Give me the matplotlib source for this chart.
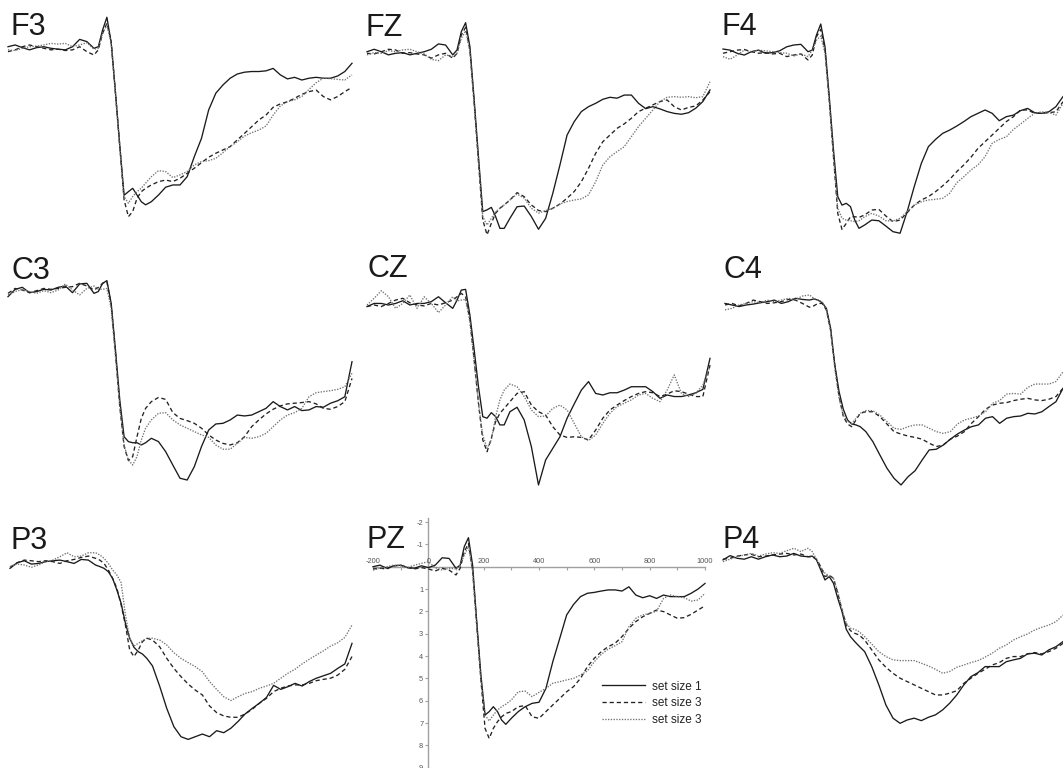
import matplotlib
matplotlib.use("Agg")
import matplotlib.pyplot as plt

# ---------------- data (time in ms, amplitude in microvolts, positive down) ----
T = [-200, -175, -150, -125, -100, -75, -50, -25, 0, 25, 50, 75, 100,
     115, 130, 145, 160, 175, 190, 205, 220, 235, 250, 265, 280,
     300, 325, 350, 375, 400, 425, 450, 475, 500, 525, 550, 575, 600,
     625, 650, 675, 700, 725, 750, 775, 800, 825, 850, 875, 900, 925,
     950, 975, 1000]

LABELS = ["set size 1", "set size 3", "set size 3"]
CHANNELS = ["F3", "FZ", "F4", "C3", "CZ", "C4", "P3", "PZ", "P4"]

F3_1 = [-0.07,-0.15,-0.03,0.07,-0.03,-0.07,0,0.04,0.07,-0.07,-0.4,-0.3,0, -0.07,-0.82,-1.39,-0.25,2.0,4.36,6.58,6.42,6.27,6.57,6.87,7.01, 6.87,6.57,6.22,6.12,6.12,5.75,4.85,4.03,2.76,2.01,1.64,1.34,1.15,1.07,1.04,1.04,1.01,0.9,1.19,1.37,1.3,1.42,1.34,1.3,1.34,1.34,1.24,1.04,0.67]
F3_2 = [0.15,0.07,-0.07,-0.15,-0.07,0,0.07,0.04,0.1,0.07,-0.07,0.15,0.3, 0.07,-0.67,-1.12,-0.3,2.01,4.4,6.79,7.54,7.31,6.72,6.42,6.27, 6.12,5.97,5.9,5.97,5.82,5.6,5.37,5.12,4.88,4.7,4.55,4.4,4.1,3.81,3.51,3.21,2.99,2.64,2.49,2.39,2.24,2.06,1.94,1.87,2.16,2.31,2.16,1.94,1.75]
F3_3 = [0.07,0.1,0,-0.07,-0.1,-0.15,-0.22,-0.19,-0.22,-0.07,-0.15,-0.25,0.04, 0,-0.67,-1.04,-0.22,2.09,4.48,6.64,6.94,6.64,6.42,6.27,6.04, 5.75,5.48,5.52,5.79,5.67,5.52,5.22,5.07,5.03,4.93,4.67,4.4,4.18,3.93,3.78,3.66,3.48,2.99,2.58,2.39,2.31,2.16,1.84,1.54,1.34,1.36,1.39,1.42,1.19]

FZ_1 = [-0.07,-0.18,-0.07,0.07,0,-0.03,0.07,0,-0.07,-0.18,-0.42,-0.37,0.07, -0.15,-0.97,-1.37,-0.3,2.09,4.63,7.09,7.01,6.9,7.31,7.84,7.84, 7.39,6.87,6.84,7.31,7.88,7.39,6.27,5.0,3.66,3.06,2.61,2.39,2.24,2.06,1.97,2.01,1.87,1.87,2.24,2.48,2.39,2.49,2.61,2.69,2.73,2.66,2.46,2.16,1.64]
FZ_2 = [0,0.03,-0.07,-0.18,-0.15,0,-0.03,0.03,0.07,0.22,0.07,0,0.22, 0,-0.82,-1.16,-0.15,2.24,4.85,7.46,8.13,7.61,7.16,6.94,6.79, 6.57,6.24,6.42,6.79,7.04,7.09,6.94,6.75,6.49,6.19,5.75,5.15,4.48,3.96,3.66,3.36,3.16,2.91,2.61,2.46,2.31,2.16,2.09,2.39,2.54,2.42,2.36,2.09,1.72]
FZ_3 = [0.07,-0.03,0,-0.12,-0.07,-0.15,-0.18,-0.07,0.03,0.27,0.33,0.07,0.15, 0,-0.67,-1.01,-0.07,2.31,4.85,7.31,7.69,7.39,7.09,6.94,6.79, 6.57,6.3,6.49,6.94,7.16,7.04,6.94,6.75,6.64,6.57,6.52,6.34,5.75,5.0,4.63,4.4,4.18,3.73,3.28,2.91,2.54,2.16,1.97,1.94,1.97,1.94,1.99,1.94,1.27]

F4_1 = [-0.12,-0.07,0.07,0.15,0,-0.07,0.07,0.04,-0.04,-0.22,-0.3,-0.33,0, -0.07,-0.75,-1.24,-0.22,2.01,4.4,6.49,6.87,6.79,6.94,7.54,7.91, 7.76,7.54,7.57,7.81,8.06,8.13,7.16,6.04,5.0,4.25,3.93,3.66,3.51,3.33,3.13,2.91,2.76,2.61,2.76,3.09,2.91,2.84,2.64,2.54,2.73,2.76,2.69,2.46,2.01]
F4_2 = [0.07,0,-0.07,-0.1,0,0.07,0.04,0.1,0.07,0.22,0.15,0.1,0.37, 0.15,-0.67,-1.0,-0.07,2.16,4.7,7.24,7.96,7.69,7.39,7.39,7.42, 7.31,7.09,7.06,7.36,7.61,7.54,7.21,6.87,6.64,6.49,6.27,6.01,5.72,5.37,5.07,4.73,4.33,4.03,3.73,3.43,3.13,2.91,2.61,2.61,2.76,2.76,2.73,2.69,2.24]
F4_3 = [0.22,0.34,0.15,-0.07,0,-0.07,-0.04,0,0.04,0.07,0.19,0.1,0.22, -0.07,-0.52,-0.7,0.07,2.24,4.7,7.01,7.46,7.54,7.57,7.61,7.57, 7.39,7.24,7.36,7.57,7.58,7.46,7.16,6.87,6.72,6.64,6.61,6.57,6.34,5.87,5.6,5.3,5.07,4.7,4.1,3.93,3.81,3.48,3.24,2.99,2.76,2.69,2.73,2.84,2.31]

C3_1 = [0.3,-0.03,-0.12,0.12,0.07,-0.03,0,-0.12,-0.18,0.12,-0.27,-0.3,0.15, 0.07,-0.3,-0.42,0.6,2.69,4.93,6.57,6.79,6.84,6.84,6.94,6.84, 6.64,6.79,7.24,7.84,8.43,8.51,7.91,7.01,6.27,6.0,5.97,5.82,5.6,5.64,5.6,5.45,5.3,5.0,5.22,5.37,5.22,5.4,5.37,5.22,5.25,5.07,4.96,4.78,3.21]
C3_2 = [0.15,-0.07,0,0.12,0.03,-0.07,-0.03,-0.07,-0.12,-0.15,-0.3,-0.18,0, -0.12,-0.3,-0.37,0.67,2.84,5.22,7.01,7.64,7.46,6.57,5.75,5.3, 5.0,4.81,4.9,5.49,5.75,5.85,5.97,6.19,6.49,6.72,6.87,6.94,6.84,6.57,6.12,5.82,5.55,5.34,5.19,5.1,5.07,5.04,5.0,5.1,5.3,5.34,5.22,5.0,3.96]
C3_3 = [0.22,0.07,-0.03,0.07,0.15,0.03,0.12,0,-0.27,0,0.22,-0.07,-0.18, -0.03,-0.03,-0.07,0.82,2.99,5.22,6.94,7.61,7.84,7.46,6.72,6.19, 5.82,5.52,5.49,5.82,6.04,6.19,6.34,6.49,6.6,6.94,7.13,7.13,6.87,6.6,6.64,6.57,6.42,6.12,5.82,5.6,5.49,5.3,4.78,4.6,4.55,4.51,4.45,4.33,3.73]

CZ_1 = [0.07,-0.07,-0.07,0,-0.07,-0.19,0,-0.07,-0.07,-0.15,-0.37,-0.1,0.15, -0.22,-0.67,-0.7,0.45,2.01,3.66,5.0,5.07,4.82,5.0,5.37,5.37, 4.78,4.58,5.15,6.34,8.06,6.94,6.42,5.9,5.07,4.43,3.81,3.43,3.96,4.03,3.93,3.93,3.81,3.66,3.66,3.66,3.88,4.18,4.03,4.1,4.1,4.03,3.93,3.78,2.39]
CZ_2 = [0.07,0,0.07,-0.07,-0.22,-0.3,-0.1,0,0.04,-0.07,0,-0.1,-0.22, -0.37,-0.52,-0.37,0.67,2.46,4.4,6.04,6.57,5.97,5.22,4.85,4.63, 4.33,3.96,3.88,4.48,4.78,4.93,5.45,5.82,5.93,5.9,5.93,6.04,5.6,5.07,4.7,4.48,4.28,4.1,3.96,3.88,3.93,4.1,3.99,3.84,3.88,3.99,4.1,4.1,2.69]
CZ_3 = [0,-0.3,-0.64,-0.37,0.15,-0.07,-0.45,0.15,-0.37,-0.07,0.34,0,-0.37, -0.19,-0.22,-0.25,0.75,2.54,4.4,5.82,6.42,6.04,5.0,4.25,3.81, 3.54,3.66,4.1,4.7,5.0,4.97,4.63,4.48,4.7,5.3,5.9,6.07,5.82,5.3,4.85,4.55,4.4,4.25,4.03,3.96,4.18,4.33,3.81,3.13,3.96,4.1,3.96,3.58,2.76]

C4_1 = [-0.07,0,0.07,0,-0.04,-0.1,-0.15,-0.22,-0.07,-0.15,-0.3,-0.25,-0.22, -0.27,-0.22,-0.1,0.15,1.04,2.69,3.88,4.67,5.15,5.33,5.37,5.45, 5.67,6.12,6.72,7.31,7.76,8.06,7.69,7.42,6.94,6.49,6.46,6.27,6.01,5.78,5.6,5.45,5.37,5.07,5.0,5.3,5.07,5.0,4.97,4.85,4.88,4.78,4.55,4.33,3.73]
C4_2 = [0,-0.07,0.04,-0.07,-0.22,-0.15,-0.07,-0.1,-0.15,-0.25,-0.22,-0.07,0.1, 0.04,-0.07,-0.07,0.22,1.12,2.76,4.1,4.99,5.33,5.45,5.15,4.85, 4.78,4.78,5.0,5.33,5.67,5.78,5.87,5.93,6.01,6.19,6.34,6.27,6.01,5.87,5.67,5.3,5.0,4.67,4.48,4.4,4.37,4.28,4.22,4.18,4.25,4.28,4.22,4.1,3.73]
C4_3 = [0.22,0.15,0,-0.07,-0.15,-0.1,-0.22,-0.15,-0.22,-0.3,-0.25,-0.4,-0.45, -0.3,-0.22,-0.15,0.22,1.19,2.84,4.18,4.93,5.22,5.3,5.07,4.85, 4.73,4.73,4.93,5.22,5.52,5.57,5.45,5.37,5.37,5.52,5.67,5.75,5.67,5.33,5.15,5.07,4.97,4.78,4.4,4.28,3.99,3.96,3.99,3.69,3.54,3.54,3.54,3.43,2.99]

P3_1 = [0.15,-0.1,-0.19,-0.04,-0.07,-0.15,-0.19,-0.22,-0.15,-0.07,-0.25,-0.22,0, 0.07,0.15,0.3,0.6,1.12,1.72,2.61,3.28,3.69,3.88,3.99,4.18, 4.52,5.42,6.42,7.24,7.69,7.81,7.69,7.57,7.69,7.42,7.51,7.31,7.01,6.67,6.42,6.19,5.93,5.39,5.57,5.45,5.3,5.42,5.22,5.07,4.96,4.85,4.63,4.43,3.51]
P3_2 = [0.1,-0.1,-0.22,-0.19,-0.15,-0.19,-0.15,-0.07,-0.19,-0.25,-0.34,-0.4,-0.3, -0.22,-0.07,0.22,0.6,1.04,1.79,2.69,3.81,4.1,3.81,3.43,3.28, 3.36,3.66,4.18,4.63,5.0,5.33,5.6,5.82,6.31,6.61,6.76,6.82,6.82,6.67,6.46,6.19,5.97,5.67,5.52,5.42,5.37,5.37,5.3,5.18,5.12,5.07,4.93,4.67,4.1]
P3_3 = [0.07,-0.04,0,0.1,0,-0.15,-0.22,-0.37,-0.55,-0.37,-0.4,-0.55,-0.55, -0.45,-0.3,-0.07,0.22,0.45,0.79,2.24,3.28,3.63,3.51,3.39,3.28, 3.28,3.36,3.58,3.93,4.18,4.37,4.55,4.78,5.22,5.57,5.9,6.07,5.9,5.75,5.67,5.52,5.42,5.3,5.07,4.85,4.67,4.43,4.22,4.03,3.84,3.63,3.48,3.24,2.69]

PZ_1 = [0,-0.07,0.07,-0.04,-0.07,0.04,0.07,-0.04,0.04,-0.07,-0.4,-0.37,0.07, -0.07,-0.9,-1.3,-0.07,2.46,4.85,6.64,6.49,6.27,6.49,6.87,7.06, 6.79,6.49,6.27,6.12,6.07,5.45,4.25,3.21,2.16,1.69,1.34,1.19,1.15,1.09,1.04,1.04,1.09,0.9,1.27,1.39,1.3,1.42,1.27,1.34,1.34,1.34,1.19,1.0,0.75]
PZ_2 = [0.1,0.07,0.1,-0.04,-0.07,0.04,0.1,0.04,0.1,0.19,0.07,0.15,0.37, 0.07,-0.67,-1.04,0.15,2.61,5.07,7.24,7.69,7.24,6.94,6.72,6.57, 6.49,6.27,6.22,6.72,6.79,6.49,6.19,5.9,5.6,5.37,5.0,4.48,4.1,3.81,3.58,3.43,3.13,2.76,2.46,2.24,2.09,1.94,2.01,2.16,2.31,2.28,2.13,1.94,1.75]
PZ_3 = [0.15,0.07,0,-0.07,-0.04,0.04,-0.07,-0.15,-0.22,0.04,0.15,0.07,0.1, -0.07,-0.52,-0.9,0.22,2.69,5.07,6.64,6.91,6.64,6.42,6.27,6.16, 5.97,5.6,5.57,5.82,5.63,5.45,5.22,5.15,5.07,5.0,4.85,4.67,4.25,3.93,3.69,3.54,3.36,2.69,2.31,2.16,2.09,1.99,1.42,1.27,1.34,1.39,1.54,1.49,1.19]

P4_1 = [0.07,-0.12,0,0.04,-0.07,0.04,-0.07,-0.15,-0.07,-0.1,-0.22,-0.1,-0.07, -0.1,0.07,0.52,0.97,0.82,1.12,1.79,2.39,3.18,3.51,3.73,3.93, 4.18,4.85,5.67,6.57,7.16,7.39,7.24,7.16,7.27,7.12,7.01,6.79,6.49,6.12,5.67,5.3,5.12,4.85,4.85,4.85,4.63,4.55,4.48,4.28,4.25,4.33,4.1,3.96,3.73]
P4_2 = [0.04,0,-0.1,-0.15,-0.18,-0.07,-0.1,-0.15,-0.19,-0.22,-0.15,-0.19,-0.07, -0.07,0.04,0.37,0.82,0.75,0.9,1.57,2.31,2.99,3.24,3.36,3.43, 3.66,4.1,4.55,4.88,5.15,5.37,5.52,5.67,5.82,5.97,6.12,6.12,6.04,5.93,5.6,5.37,5.15,4.97,4.78,4.67,4.48,4.4,4.4,4.28,4.22,4.28,4.18,4.03,3.81]
P4_3 = [0.15,0.04,-0.07,-0.15,-0.22,-0.1,-0.19,-0.25,-0.22,-0.34,-0.45,-0.3,-0.45, -0.3,0.04,0.4,0.67,0.79,0.9,1.49,2.31,2.91,3.13,3.18,3.28, 3.51,3.84,4.18,4.4,4.55,4.58,4.58,4.58,4.7,4.82,4.97,5.15,5.07,4.88,4.78,4.67,4.58,4.43,4.25,4.03,3.88,3.66,3.51,3.39,3.21,3.09,2.99,2.84,2.54]

SERIES = {
    "F3": (F3_1, F3_2, F3_3), "FZ": (FZ_1, FZ_2, FZ_3), "F4": (F4_1, F4_2, F4_3),
    "C3": (C3_1, C3_2, C3_3), "CZ": (CZ_1, CZ_2, CZ_3), "C4": (C4_1, C4_2, C4_3),
    "P3": (P3_1, P3_2, P3_3), "PZ": (PZ_1, PZ_2, PZ_3), "P4": (P4_1, P4_2, P4_3),
}

PZ_XTICKS = [-200, 0, 200, 400, 600, 800, 1000]
PZ_YTICKS = [-2, -1, 1, 2, 3, 4, 5, 6, 7, 8, 9]

# ---------------- layout (pixels) ----------------
W, H = 1063, 768
S = 22.33              # px per microvolt
YTOP, YBOT = -2.2, 9.0
# left px, right px (for -200 / 1000 ms), baseline px (0 uV), title x, title baseline
LAYOUT = {
    "F3": (8, 352, 48.3, 10.5, 35),
    "FZ": (367, 710, 53.3, 365.5, 36),
    "F4": (723, 1063, 51.7, 721.5, 35),
    "C3": (8, 352, 290, 11.5, 279),
    "CZ": (367, 710, 305, 367.5, 277),
    "C4": (725, 1063, 305, 723.5, 278),
    "P3": (10, 352, 565, 10.5, 549),
    "PZ": (373, 705, 566.7, 366.5, 548),
    "P4": (723, 1063, 558.3, 722.5, 548),
}

STYLES = [
    dict(color="#1a1a1a", lw=0.95, ls="-"),
    dict(color="#222222", lw=0.95, ls=(0, (3.2, 2.2))),
    dict(color="#707070", lw=0.95, ls=(0, (1, 1.1))),
]

plt.rcParams["font.family"] = ["Liberation Sans", "DejaVu Sans"]
fig = plt.figure(figsize=(W / 100, H / 100), dpi=100)
fig.patch.set_facecolor("white")

for ch in CHANNELS:
    L, R, B, tx, ty = LAYOUT[ch]
    top = B + YTOP * S
    hgt = (YBOT - YTOP) * S
    ax = fig.add_axes([L / W, 1 - (top + hgt) / H, (R - L) / W, hgt / H])
    ax.set_xlim(-200, 1000)
    ax.set_ylim(YBOT, YTOP)
    ax.patch.set_alpha(0)
    handles = []
    for vals, st in zip(SERIES[ch], STYLES):
        ln, = ax.plot(T, vals, color=st["color"], lw=st["lw"], linestyle=st["ls"],
                      clip_on=False, solid_joinstyle="round", zorder=3)
        handles.append(ln)
    if ch == "PZ":
        for side in ("right", "bottom"):
            ax.spines[side].set_visible(False)
        ax.spines["left"].set_position(("data", 0))
        ax.spines["top"].set_position(("data", 0))
        for side in ("left", "top"):
            ax.spines[side].set_color("#a0a0a0")
            ax.spines[side].set_linewidth(1.0)
            ax.spines[side].set_zorder(1)
        ax.xaxis.set_ticks_position("top")
        ax.yaxis.set_ticks_position("left")
        ax.set_xticks(PZ_XTICKS)
        ax.set_xticklabels([str(v) for v in PZ_XTICKS])
        ax.set_xticks(list(range(-100, 1000, 200)), minor=True)
        ax.set_yticks(PZ_YTICKS)
        ax.set_yticklabels([str(v) for v in PZ_YTICKS])
        ax.tick_params(axis="x", which="both", direction="in", length=2.2,
                       width=0.8, color="#a0a0a0", labelsize=5.3,
                       labelcolor="#555555", pad=1.5)
        ax.tick_params(axis="y", direction="out", length=2.2, width=0.8,
                       color="#a0a0a0", labelsize=5.3, labelcolor="#555555", pad=1.5)
        leg = ax.legend(handles, LABELS, loc="upper left",
                        bbox_to_anchor=(602 / W, 1 - 680.5 / H),
                        bbox_transform=fig.transFigure, frameon=False,
                        fontsize=8.5, handlelength=3.6, handletextpad=0.6,
                        labelspacing=0.42, borderpad=0, borderaxespad=0)
        for t in leg.get_texts():
            t.set_color("#222222")
    else:
        ax.axis("off")
    fig.text(tx / W, 1 - ty / H, ch, fontsize=22, va="baseline", ha="left",
             color="#1a1a1a")

fig.savefig("out.png", dpi=100, facecolor="white")
